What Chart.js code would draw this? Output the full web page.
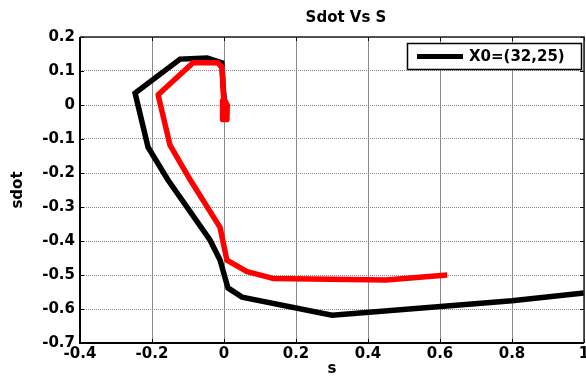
<!DOCTYPE html>
<html>
<head>
<meta charset="utf-8">
<script src="https://cdn.jsdelivr.net/npm/chart.js@4"></script>
<style>
  html, body { margin: 0; padding: 0; background: #fff; overflow: hidden; }
</style>
</head>
<body>
<canvas id="sdotChart" width="600" height="378"></canvas>
<script>
// values
const xTickValues = [-0.4, -0.2, 0, 0.2, 0.4, 0.6, 0.8, 1];
const yTickValues = [-0.7, -0.6, -0.5, -0.4, -0.3, -0.2, -0.1, 0, 0.1, 0.2];

const blackS    = [1.0, 0.8, 0.3, 0.05, 0.011, -0.011, -0.039, -0.156, -0.211, -0.247, -0.122, -0.047, -0.006, -0.003, 0.002];
const blackSdot = [-0.553, -0.576, -0.618, -0.565, -0.538, -0.456, -0.397, -0.22, -0.124, 0.035, 0.135, 0.138, 0.124, 0.06, 0.0];

const redS    = [0.62, 0.45, 0.136, 0.064, 0.008, -0.011, -0.094, -0.15, -0.183, -0.086, -0.017, -0.005, -0.001, 0.009, 0.008, -0.003, -0.004, 0.005, 0.004];
const redSdot = [-0.50, -0.515, -0.51, -0.49, -0.456, -0.36, -0.22, -0.118, 0.03, 0.124, 0.124, 0.11, 0.02, 0.0, -0.043, -0.043, 0.012, 0.008, -0.03];

const titleText = 'Sdot Vs S';
const legendLabel = 'X0=(32,25)';

const FONT = "'DejaVu Sans', 'Liberation Sans', Arial, sans-serif";

const toPoints = (xs, ys) => xs.map((x, i) => ({ x: x, y: ys[i] }));

// matlab-ish frame, inward ticks, title and legend box
const matlabFrame = {
  id: 'matlabFrame',
  afterDraw(chart) {
    const ctx = chart.ctx;
    const a = chart.chartArea;
    const xs = chart.scales.x, ys = chart.scales.y;
    ctx.save();

    // inward tick marks
    ctx.strokeStyle = '#000';
    ctx.lineWidth = 1;
    ctx.beginPath();
    xTickValues.forEach(v => {
      const px = Math.round(xs.getPixelForValue(v)) + 0.5;
      ctx.moveTo(px, a.bottom); ctx.lineTo(px, a.bottom - 4);
      ctx.moveTo(px, a.top); ctx.lineTo(px, a.top + 4);
    });
    yTickValues.forEach(v => {
      const py = Math.round(ys.getPixelForValue(v)) + 0.5;
      ctx.moveTo(a.left, py); ctx.lineTo(a.left + 4, py);
      ctx.moveTo(a.right, py); ctx.lineTo(a.right - 4, py);
    });
    ctx.stroke();

    // box
    ctx.lineWidth = 2;
    ctx.beginPath();
    ctx.moveTo(a.left, a.top); ctx.lineTo(a.left, a.bottom); ctx.lineTo(a.right, a.bottom);
    ctx.stroke();
    ctx.lineWidth = 1.5;
    ctx.strokeStyle = '#222';
    ctx.beginPath();
    ctx.moveTo(a.left, a.top); ctx.lineTo(a.right, a.top); ctx.lineTo(a.right, a.bottom);
    ctx.stroke();

    // title
    ctx.fillStyle = '#000';
    ctx.font = 'bold 15px ' + FONT;
    ctx.textAlign = 'center';
    ctx.textBaseline = 'middle';
    ctx.fillText(titleText, 346, 18);

    // legend
    ctx.fillStyle = '#fff';
    ctx.fillRect(407, 43, 174, 26);
    ctx.strokeStyle = '#000';
    ctx.lineWidth = 1.5;
    ctx.strokeRect(407.5, 43.5, 174, 26);
    ctx.lineWidth = 5;
    ctx.beginPath();
    ctx.moveTo(417, 56.5); ctx.lineTo(463, 56.5);
    ctx.stroke();
    ctx.fillStyle = '#000';
    ctx.font = 'bold 15px ' + FONT;
    ctx.textAlign = 'left';
    ctx.fillText(legendLabel, 469, 57);

    ctx.restore();
  }
};

new Chart(document.getElementById('sdotChart').getContext('2d'), {
  type: 'scatter',
  data: {
    datasets: [
      {
        label: 'red',
        data: toPoints(redS, redSdot),
        showLine: true,
        borderColor: '#ff0000',
        backgroundColor: '#ff0000',
        borderWidth: 5.5,
        pointRadius: 0,
        tension: 0,
        borderJoinStyle: 'round'
      },
      {
        label: legendLabel,
        data: toPoints(blackS, blackSdot),
        showLine: true,
        borderColor: '#000000',
        backgroundColor: '#000000',
        borderWidth: 5.5,
        pointRadius: 0,
        tension: 0,
        borderJoinStyle: 'miter'
      }
    ]
  },
  options: {
    responsive: false,
    animation: false,
    layout: { padding: { top: 37, right: 16, left: 0, bottom: 0 } },
    plugins: {
      legend: { display: false },
      title: { display: false },
      tooltip: { enabled: false }
    },
    scales: {
      x: {
        type: 'linear',
        min: -0.4,
        max: 1,
        afterBuildTicks: s => { s.ticks = xTickValues.map(v => ({ value: v })); },
        afterFit: s => { s.height = 35; },
        ticks: {
          callback: v => String(v),
          color: '#000',
          padding: 2,
          maxRotation: 0,
          font: { family: FONT, size: 15, weight: 'bold' }
        },
        grid: { color: '#8a8a8a', lineWidth: 1, drawTicks: false },
        border: { display: false },
        title: {
          display: true,
          text: 's',
          color: '#000',
          padding: { top: 0, bottom: 0 },
          font: { family: FONT, size: 15, weight: 'bold' }
        }
      },
      y: {
        min: -0.7,
        max: 0.2,
        afterBuildTicks: s => { s.ticks = yTickValues.map(v => ({ value: v })); },
        afterFit: s => { s.width = 80; },
        ticks: {
          callback: v => String(v),
          color: '#000',
          padding: 5,
          font: { family: FONT, size: 15, weight: 'bold' }
        },
        grid: { color: '#8a8a8a', lineWidth: 1, drawTicks: false, tickBorderDash: [1, 1] },
        border: { display: false, dash: [1, 1] },
        title: {
          display: true,
          text: 'sdot',
          color: '#000',
          padding: { top: 9, bottom: 0 },
          font: { family: FONT, size: 15, weight: 'bold' }
        }
      }
    }
  },
  plugins: [matlabFrame]
});
</script>
</body>
</html>
